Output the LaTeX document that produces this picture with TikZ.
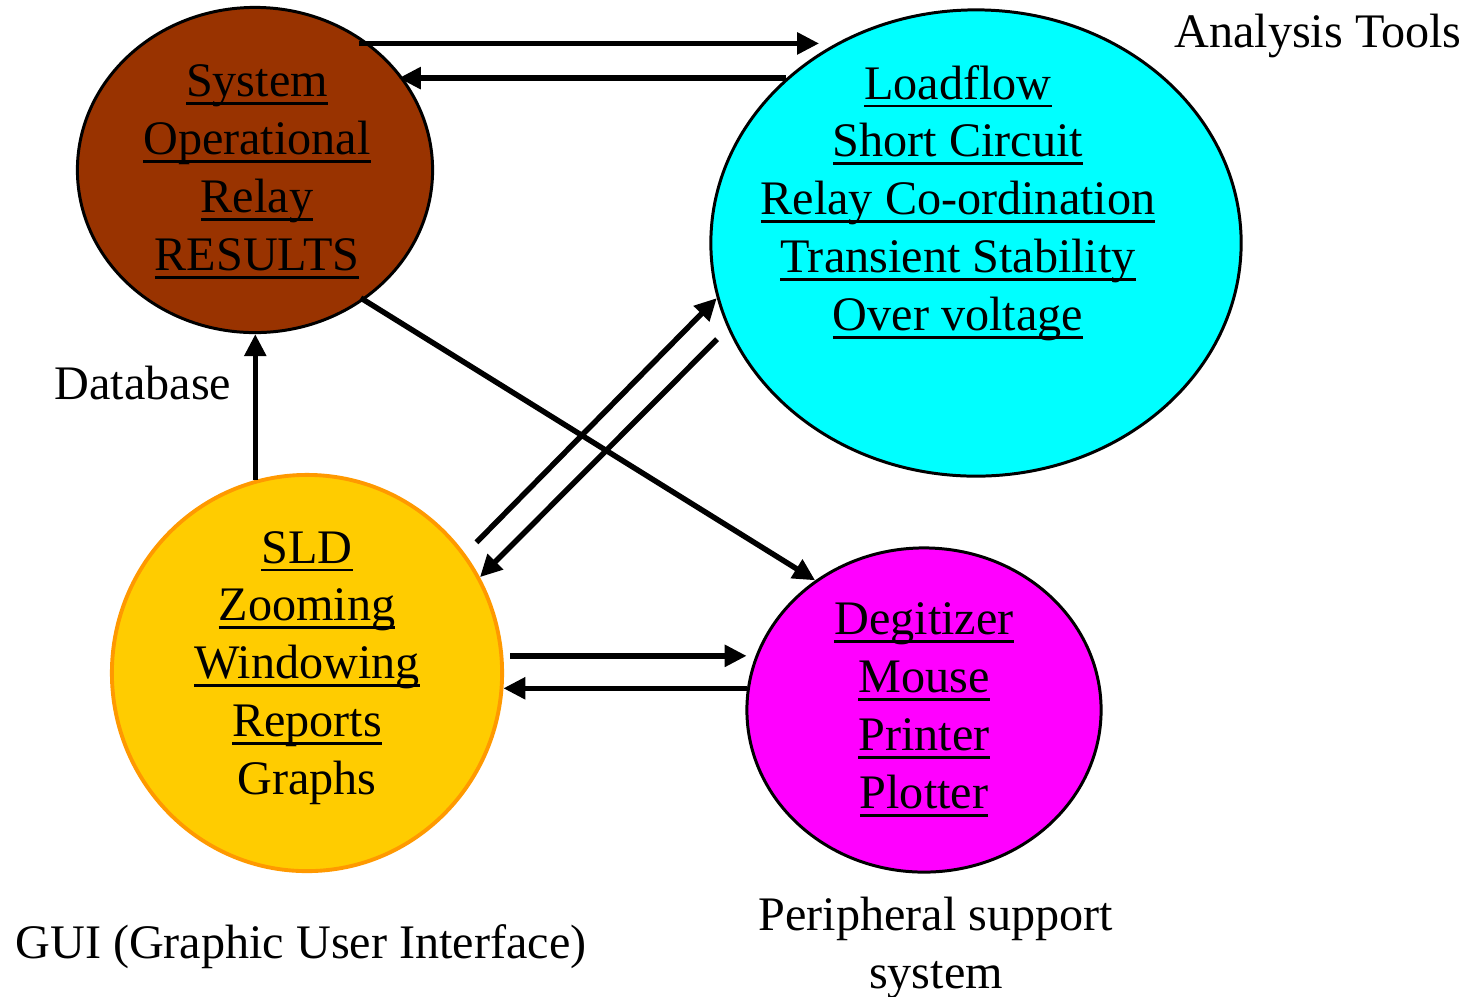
\documentclass[tikz,border=0pt]{standalone}
\usepackage{fontspec}
\setmainfont{Liberation Serif}
\usepackage{tikz}
\usetikzlibrary{shapes.geometric}
\usetikzlibrary{arrows.meta}
\definecolor{dbBrown}{HTML}{993300}
\definecolor{toolCyan}{HTML}{00FFFF}
\definecolor{guiGold}{HTML}{FFCC00}
\definecolor{guiRim}{HTML}{FF9900}
\definecolor{periMagenta}{HTML}{FF00FF}
% underline drawn at a fixed depth, through the descenders
\newcommand{\ulText}[1]{\setbox0=\hbox{#1}\rlap{\smash{\rule[-2.3pt]{\wd0}{0.75pt}}}\box0}
\tikzset{
  blob/.style={
    ellipse,
    draw=black,
    line width=0.85pt,
    inner sep=0pt
  },
  flowArrow/.style={
    -{Triangle[length=0.22cm,width=0.21cm]},
    line width=1.55pt
  },
  itemList/.style={
    align=center,
    inner sep=0pt,
    font=\fontsize{13.7}{16.45}\selectfont
  },
  plainLabel/.style={
    inner sep=0pt,
    font=\fontsize{13.7}{16.45}\selectfont
  }
}

\begin{document}
\begin{tikzpicture}[x=0.01cm, y=-0.01cm]
\useasboundingbox (0,0) rectangle (1473,996);

% === Blobs ===
\node[blob, fill=dbBrown, minimum width=3.55cm, minimum height=3.25cm] (sys) at (255,170) {};
\node[blob, fill=toolCyan, minimum width=5.30cm, minimum height=4.66cm] (tools) at (976,243) {};
\node[blob, fill=guiGold, draw=guiRim, line width=1.1pt, minimum width=3.90cm, minimum height=3.96cm] (gui) at (307,673) {};
\node[blob, fill=periMagenta, minimum width=3.54cm, minimum height=3.24cm] (periph) at (924,710) {};

% Item lists inside the blobs
\node[itemList] (sysList) at (257,168) {\ulText{System}\\ \ulText{Operational}\\ \ulText{Relay}\\ \ulText{RESULTS}};
\node[itemList] (toolsList) at (958,203) {\ulText{Loadflow}\\ \ulText{Short Circuit}\\ \ulText{Relay Co-ordination}\\ \ulText{Transient Stability}\\ \ulText{Over voltage}};
\node[itemList] (guiList) at (307,668) {\ulText{SLD}\\ \ulText{Zooming}\\ \ulText{Windowing}\\ \ulText{Reports}\\ Graphs};
\node[itemList] (periphList) at (924,706) {\ulText{Degitizer}\\ \ulText{Mouse}\\ \ulText{Printer}\\ \ulText{Plotter}};

% Captions
\node[plainLabel, anchor=base] (toolsLbl) at (1318,47) {Analysis Tools};
\node[plainLabel, anchor=base] (sysLbl) at (143,399) {Database};
\node[plainLabel, anchor=base] (guiLbl) at (301,958) {GUI (Graphic User Interface)};
\node[plainLabel, align=center] (periphLbl) at (936,948) {Peripheral support\\system};

% === Data flow ===
\draw[flowArrow, shorten <=-0.1cm, shorten >=0.17cm] (sys.48) -- (sys.48 -| tools.125);
\draw[flowArrow, shorten >=-0.06cm] (tools.139) -- (tools.139 -| sys.31);
\draw[flowArrow] (gui.105) -- (gui.105 |- sys.south);
\draw[flowArrow, shorten <=-0.04cm] (sys.-50) -- (periph.130);
\draw[flowArrow, shorten <=0.16cm] (gui.37) -- (tools.192);
\draw[flowArrow, shorten <=0.15cm] (tools.199) -- (gui.29);
\draw[flowArrow, shorten <=0.07cm, shorten >=0.09cm] (gui.5) -- (gui.5 -| periph.162);
\draw[flowArrow] (periph.173) -- (periph.173 -| gui.-5);

\end{tikzpicture}
\end{document}
